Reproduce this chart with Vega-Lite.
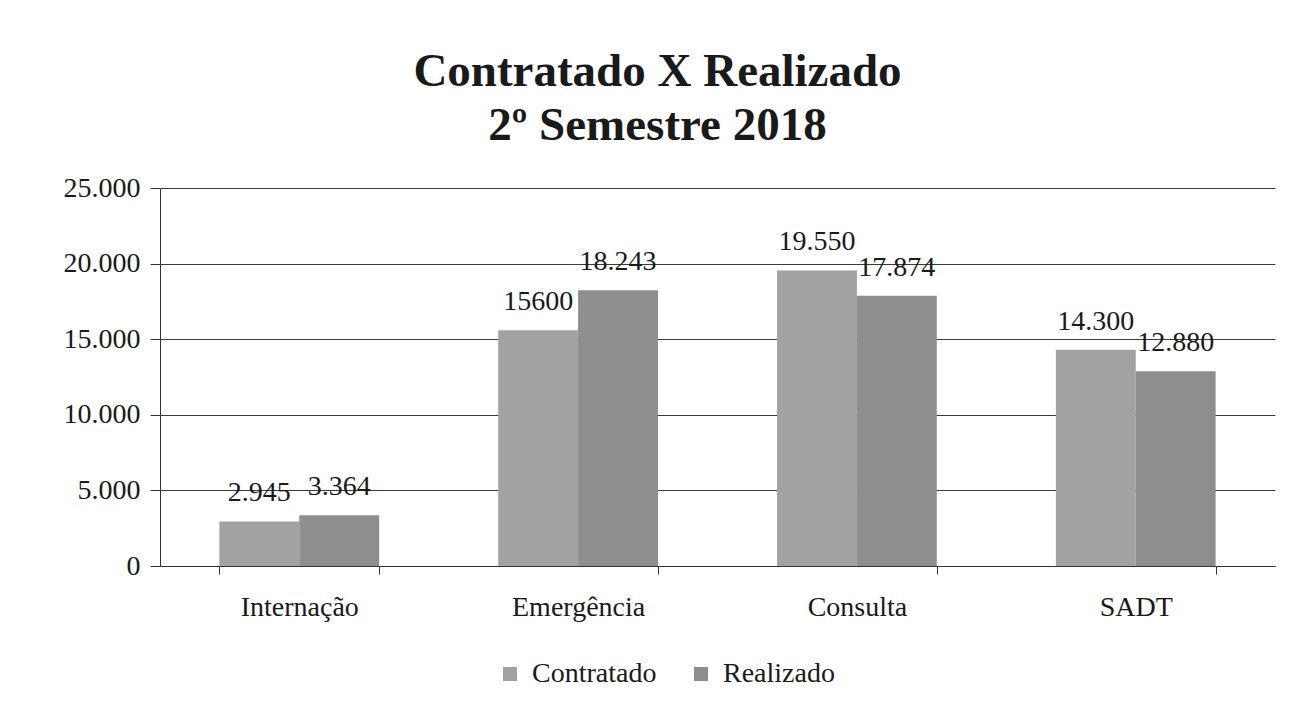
{
  "$schema": "https://vega.github.io/schema/vega-lite/v6.json",
  "width": 1115,
  "height": 378,
  "autosize": {"type": "none"},
  "padding": {"left": 160, "top": 188, "right": 22, "bottom": 148},
  "background": "white",
  "config": {
    "locale": {"number": {"decimal": ",", "thousands": ".", "grouping": [3], "currency": ["R$", ""]}},
    "font": "Liberation Serif",
    "mark": {"font": "Liberation Serif"},
    "text": {"font": "Liberation Serif"},
    "legend": {"labelFont": "Liberation Serif"},
    "view": {"stroke": null}
  },
  "title": {
    "text": ["Contratado X Realizado", "2º Semestre 2018"],
    "font": "Liberation Serif",
    "fontSize": 47,
    "fontWeight": "bold",
    "lineHeight": 54,
    "color": "#1a1a1a",
    "anchor": "middle",
    "dx": -60,
    "offset": 24
  },
  "data": {
    "values": [
      {"categoria": "Internação", "serie": "Contratado", "valor": 2945, "rotulo": "2.945"},
      {"categoria": "Internação", "serie": "Realizado", "valor": 3364, "rotulo": "3.364"},
      {"categoria": "Emergência", "serie": "Contratado", "valor": 15600, "rotulo": "15600"},
      {"categoria": "Emergência", "serie": "Realizado", "valor": 18243, "rotulo": "18.243"},
      {"categoria": "Consulta", "serie": "Contratado", "valor": 19550, "rotulo": "19.550"},
      {"categoria": "Consulta", "serie": "Realizado", "valor": 17874, "rotulo": "17.874"},
      {"categoria": "SADT", "serie": "Contratado", "valor": 14300, "rotulo": "14.300"},
      {"categoria": "SADT", "serie": "Realizado", "valor": 12880, "rotulo": "12.880"}
    ]
  },
  "encoding": {
    "x": {
      "field": "categoria",
      "type": "nominal",
      "sort": ["Internação", "Emergência", "Consulta", "SADT"],
      "scale": {"paddingInner": 0.427, "paddingOuter": 0.213},
      "axis": {
        "title": null,
        "labelAngle": 0,
        "labelFont": "Liberation Serif",
        "labelFontSize": 28,
        "labelColor": "#1a1a1a",
        "labelPadding": 19,
        "tickBand": "extent",
        "tickSize": 8,
        "tickColor": "#333",
        "domainColor": "#333",
        "grid": false
      }
    },
    "xOffset": {
      "field": "serie",
      "type": "nominal",
      "sort": ["Contratado", "Realizado"],
      "scale": {"paddingInner": 0, "paddingOuter": 0}
    },
    "y": {
      "field": "valor",
      "type": "quantitative",
      "scale": {"domain": [0, 25000], "nice": false},
      "axis": {
        "title": null,
        "values": [0, 5000, 10000, 15000, 20000, 25000],
        "format": ",d",
        "labelFont": "Liberation Serif",
        "labelFontSize": 28,
        "labelColor": "#1a1a1a",
        "labelPadding": 10,
        "tickSize": 10,
        "tickColor": "#333",
        "domainColor": "#333",
        "gridColor": "#3a3a3a",
        "gridWidth": 1.2
      }
    }
  },
  "layer": [
    {
      "mark": {"type": "bar"},
      "encoding": {
        "color": {
          "field": "serie",
          "type": "nominal",
          "sort": ["Contratado", "Realizado"],
          "scale": {"domain": ["Contratado", "Realizado"], "range": ["#a2a2a2", "#8e8e8e"]},
          "legend": {
            "title": null,
            "orient": "none",
            "legendX": 336,
            "legendY": 472,
            "direction": "horizontal",
            "symbolType": "square",
            "symbolSize": 196,
            "symbolStrokeWidth": 0,
            "labelFont": "Liberation Serif",
            "labelFontSize": 28,
            "labelColor": "#1a1a1a",
            "labelOffset": 8,
            "labelLimit": 300,
            "columnPadding": 30,
            "padding": 0
          }
        }
      }
    },
    {
      "mark": {"type": "text", "font": "Liberation Serif", "fontSize": 28, "color": "#1a1a1a", "baseline": "alphabetic", "dy": -20},
      "encoding": {
        "text": {"field": "rotulo", "type": "nominal"}
      }
    }
  ]
}
